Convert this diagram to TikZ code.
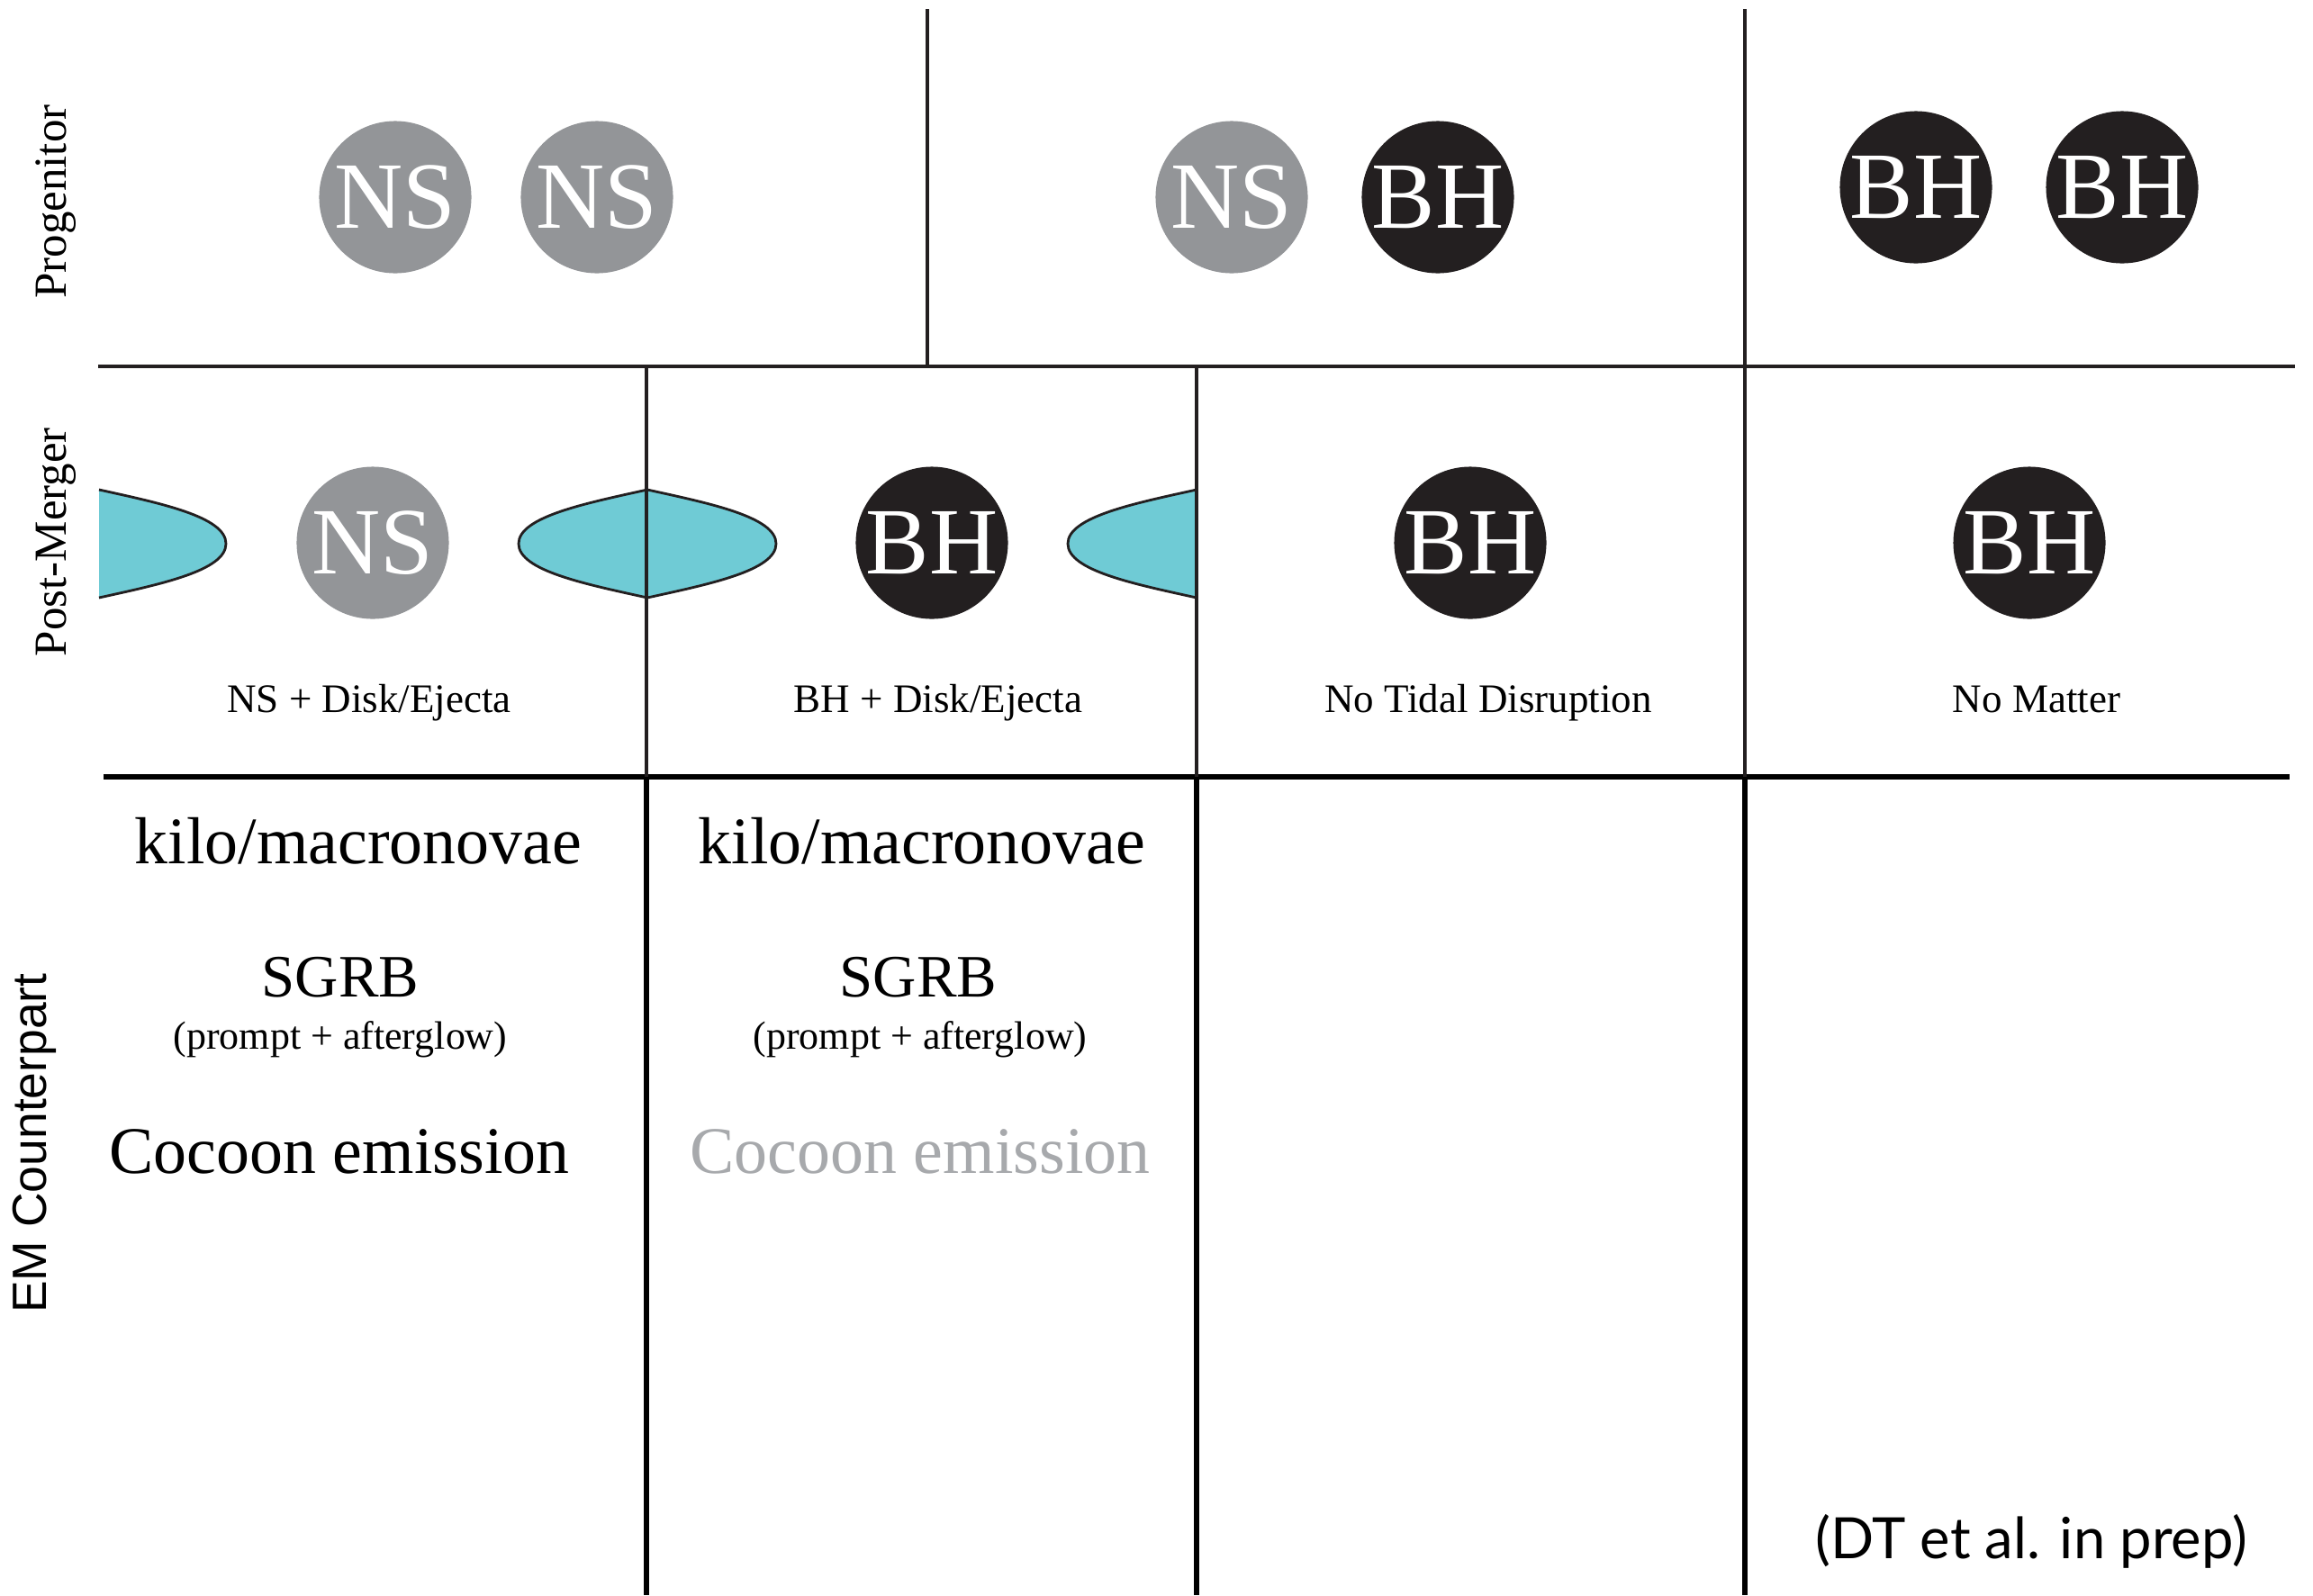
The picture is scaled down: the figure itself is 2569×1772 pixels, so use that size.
\documentclass[tikz,border=0pt]{standalone}
\usepackage{fontspec}
\setmainfont{Liberation Serif}
\newfontfamily\emfont{Liberation Sans}
\newfontfamily\notefont{Lato}
\usetikzlibrary{positioning}
\definecolor{nsGray}{HTML}{939598}
\definecolor{bhBlack}{HTML}{231F20}
\definecolor{diskCyan}{HTML}{6FCBD5}
\definecolor{faintGray}{HTML}{A7A9AC}

\begin{document}
\begin{tikzpicture}[x=0.01cm, y=-0.01cm,
      obj/.style={circle, minimum size=1.69cm, inner sep=0pt, text=white,
                  font=\fontsize{30}{30}\selectfont},
      ns/.style={obj, fill=nsGray},
      bh/.style={obj, fill=bhBlack},
      grid/.style={line width=1.4pt, bhBlack},
      gridb/.style={line width=1.5pt, black},
      disk/.style={fill=diskCyan, draw=bhBlack, line width=0.8pt},
      rowlab/.style={rotate=90, font=\fontsize{14.5}{15}\selectfont},
      caption/.style={anchor=base, font=\fontsize{12.8}{14}\selectfont},
      big/.style={font=\fontsize{21}{24}\selectfont},
      small/.style={font=\fontsize{12.5}{14}\selectfont}]
    \useasboundingbox (0,0) rectangle (2569,1772);

    \draw[grid] (109,407) -- (2549,407);
    \draw[gridb] (115,863) -- (2543,863);
    \draw[grid] (1030,10) -- (1030,407);
    \draw[grid] (1938,10) -- (1938,863);
    \draw[gridb] (718,863) -- (718,1772);
    \draw[gridb] (1329,863) -- (1329,1772);
    \draw[gridb] (1938,863) -- (1938,1772);

    \node[rowlab] (prog) at (62,224) {Progenitor};
    \node[rowlab] (post) at (62,602) {Post-Merger};
    \node[rotate=90, font=\emfont\fontsize{15.2}{16}\selectfont] (em) at (38,1270) {EM Counterpart};

    \node[ns] (ns1) at (439,219) {NS};
    \node[ns] (ns2) at (663,219) {NS};
    \node[ns] (ns3) at (1368,219) {NS};
    \node[bh] (bh1) at (1597,219) {BH};
    \node[bh] (bh2) at (2128,208) {BH};
    \node[bh] (bh3) at (2357,208) {BH};

    \fill[diskCyan] (110,544) .. controls (178,559) and (251,574) .. (251,604)
                    .. controls (251,634) and (178,649) .. (110,664) -- cycle;
    \draw[disk, fill=none] (110,544) .. controls (178,559) and (251,574) .. (251,604)
                    .. controls (251,634) and (178,649) .. (110,664);
    \draw[disk] (719,544) .. controls (651,559) and (576,574) .. (576,604)
                .. controls (576,634) and (651,649) .. (719,664)
                .. controls (787,649) and (862,634) .. (862,604)
                .. controls (862,574) and (787,559) .. (719,544) -- cycle;
    \fill[diskCyan] (1329,544) .. controls (1261,559) and (1186,574) .. (1186,604)
                    .. controls (1186,634) and (1261,649) .. (1329,664) -- cycle;
    \draw[disk, fill=none] (1329,544) .. controls (1261,559) and (1186,574) .. (1186,604)
                    .. controls (1186,634) and (1261,649) .. (1329,664);
    \draw[grid] (718,407) -- (718,863);
    \draw[grid] (1329,407) -- (1329,863);

    \node[ns] (nsm) at (414,603) {NS};
    \node[bh] (bhm1) at (1035,603) {BH};
    \node[bh] (bhm2) at (1633,603) {BH};
    \node[bh] (bhm3) at (2254,603) {BH};

    \node[caption] (c1) at (410,791) {NS + Disk/Ejecta};
    \node[caption] (c2) at (1042,791) {BH + Disk/Ejecta};
    \node[caption] (c3) at (1653,791) {No Tidal Disruption};
    \node[caption] (c4) at (2262,791) {No Matter};

    \node[big] (kn1) at (398,934) {kilo/macronovae};
    \node[big, font=\fontsize{19}{22}\selectfont] (grb1) at (378,1086) {SGRB};
    \node[small] (pa1) at (378,1155) {(prompt + afterglow)};
    \node[big] (co1) at (377,1279) {Cocoon emission};

    \node[big] (kn2) at (1024,934) {kilo/macronovae};
    \node[big, font=\fontsize{19}{22}\selectfont] (grb2) at (1020,1086) {SGRB};
    \node[small] (pa2) at (1022,1155) {(prompt + afterglow)};
    \node[big, text=faintGray] (co2) at (1022,1279) {Cocoon emission};

    \node[font=\notefont\fontsize{18}{20}\selectfont] (ref) at (2256,1712) {(DT et al. in prep)};
  \end{tikzpicture}
\end{document}
